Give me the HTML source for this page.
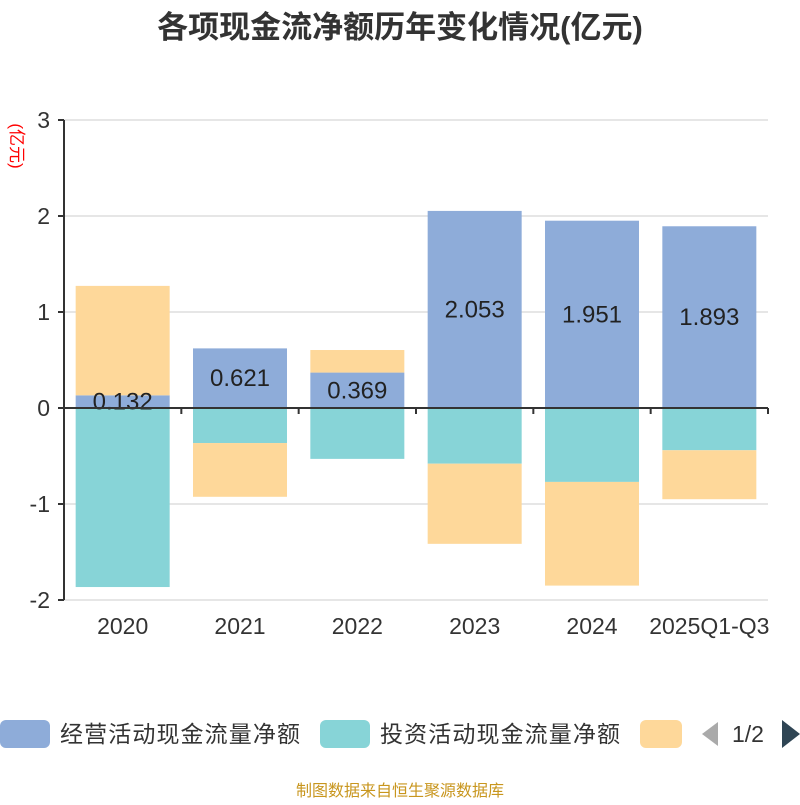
<!DOCTYPE html>
<html><head><meta charset="utf-8"><style>
body{margin:0;background:#fff;width:800px;height:800px;overflow:hidden;font-family:"Liberation Sans","Noto Sans CJK SC",sans-serif}
</style></head><body>
<svg id="chart" width="800" height="800" xmlns="http://www.w3.org/2000/svg">
<text x="400" y="38" text-anchor="middle" font-size="31" font-weight="bold" fill="#333" font-family="Liberation Sans,Noto Sans CJK SC,sans-serif">各项现金流净额历年变化情况(亿元)</text>
<text transform="translate(11,146) rotate(90)" text-anchor="middle" font-size="17" fill="#f00" font-family="Liberation Sans,Noto Sans CJK SC,sans-serif">(亿元)</text>
<g id="grid"></g><g id="bars"></g><g id="axes"></g>
<g font-size="23" fill="#333" font-family="Liberation Sans,Noto Sans CJK SC,sans-serif">
<g><rect x="0" y="720" width="50" height="28" rx="6" fill="#8eacd9"/><text x="60" y="742" textLength="240">经营活动现金流量净额</text></g>
<g><rect x="320" y="720" width="50" height="28" rx="6" fill="#87d4d7"/><text x="380" y="742" textLength="240">投资活动现金流量净额</text></g>
<g><rect x="640" y="720" width="42" height="28" rx="6" fill="#fed89a"/></g>
<polygon points="718,734 702,722 702,746" transform="translate(1420,0) scale(-1,1)" fill="#aaa"/>
<text x="732" y="742">1/2</text>
<polygon points="782,720 800,734 782,748" fill="#2f4554"/>
</g>
<text x="400" y="796" text-anchor="middle" font-size="16" fill="#c8961e" font-family="Liberation Sans,Noto Sans CJK SC,sans-serif">制图数据来自恒生聚源数据库</text>
</svg>
<script>
const categories=["2020","2021","2022","2023","2024","2025Q1-Q3"];
const operating=[0.132,0.621,0.369,2.053,1.951,1.893];
const investing=[-1.865,-0.365,-0.53,-0.58,-0.77,-0.44];
const financing=[1.14,-0.56,0.235,-0.835,-1.08,-0.51];
const yTicks=[3,2,1,0,-1,-2];
const NS="http://www.w3.org/2000/svg";
const L=64,R=768,Y0=408,U=96;
const y=v=>Y0-v*U;
const bw=(R-L)/categories.length;
const xc=i=>L+bw*(i+0.5);
function mk(t,a,p){const e=document.createElementNS(NS,t);for(const k in a)e.setAttribute(k,a[k]);p.appendChild(e);return e;}
const grid=document.getElementById('grid'),bars=document.getElementById('bars'),axes=document.getElementById('axes');
yTicks.forEach(t=>{
 if(t!==0){const g=mk('line',{x1:L,x2:R,y1:y(t),y2:y(t),stroke:'#ccc','stroke-width':1},grid);
 
 }
 const tk=mk('line',{x1:L-6,x2:L,y1:y(t),y2:y(t),stroke:'#333','stroke-width':2},axes);
 
 
 const lb=mk('text',{x:L-14,y:y(t)+8,'text-anchor':'end','font-size':23,fill:'#333'},axes);lb.textContent=t;
 
 
});
const series=[[operating,'#8eacd9','operating'],[investing,'#87d4d7','investing'],[financing,'#fed89a','financing']];
const pos=categories.map(()=>0),neg=categories.map(()=>0);
series.forEach(([vals,col,nm])=>{
 vals.forEach((v,i)=>{
  let a,b;
  if(v>=0){a=pos[i];b=pos[i]+v;pos[i]=b;}else{a=neg[i];b=neg[i]+v;neg[i]=b;}
  const r=mk('rect',{x:xc(i)-47,width:94,y:Math.min(y(a),y(b)),height:Math.abs(y(a)-y(b)),fill:col},bars);
  
  
 });
});
operating.forEach((v,i)=>{
 const t=mk('text',{x:xc(i),y:(y(0)+y(v))/2+8,'text-anchor':'middle','font-size':24,fill:'#222'},bars);
 t.textContent=v.toFixed(3);
 
 
});
const ya=mk('line',{x1:L,x2:L,y1:y(3),y2:y(-2),stroke:'#333','stroke-width':2},axes);


const xa=mk('line',{x1:L,x2:R,y1:Y0,y2:Y0,stroke:'#333','stroke-width':2},axes);


for(let i=0;i<=categories.length;i++){
 const tk=mk('line',{x1:L+bw*i,x2:L+bw*i,y1:Y0,y2:Y0+6,stroke:'#333','stroke-width':2},axes);
 
 
}
categories.forEach((c,i)=>{
 const t=mk('text',{x:xc(i),y:634,'text-anchor':'middle','font-size':23,fill:'#333'},axes);t.textContent=c;
 
 
});
</script>
</body></html>
